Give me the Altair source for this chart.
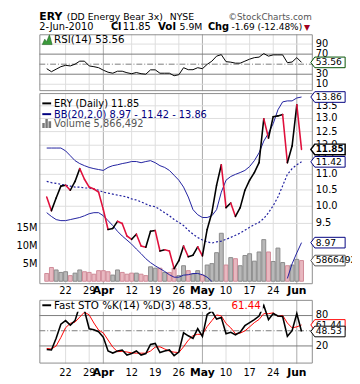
import altair as alt
import pandas as pd

FONT = "DejaVu Sans"

# ---------------- data: trading days 16-Mar-2010 .. 2-Jun-2010 (index 0..54) ----------------
prior_close = 10.45
close = [10.28, 9.87, 10.25, 10.62, 10.65, 10.49, 10.77, 11.19, 10.84, 10.59,
         10.53, 10.43, 9.90, 9.33, 9.36, 9.56, 9.50, 9.15, 9.06, 9.20,
         8.88, 8.85, 9.28, 9.30, 8.75, 8.78, 8.75, 8.30, 8.50, 8.88,
         8.60, 8.64, 8.86, 8.62, 9.33, 9.81, 10.65, 11.32, 9.96, 10.10,
         9.70, 9.96, 10.49, 10.81, 11.06, 11.39, 12.99, 12.26, 13.07, 13.10,
         13.15, 11.39, 11.97, 13.54, 11.85]
bb_upper = [11.90, 11.90, 11.90, 11.90, 11.80, 11.63, 11.46, 11.36, 11.29, 11.23,
            11.19, 11.16, 11.13, 11.23, 11.29, 11.32, 11.36, 11.39, 11.43, 11.43,
            11.39, 11.43, 11.46, 11.39, 11.29, 11.23, 11.13, 10.97, 10.81, 10.59,
            10.28, 9.90, 9.75, 9.67, 9.67, 9.72, 9.90, 10.43, 10.81, 10.93,
            11.00, 11.06, 11.13, 11.26, 11.46, 11.73, 12.15, 12.44, 12.80, 13.34,
            13.66, 13.70, 13.70, 13.82, 13.86]
bb_middle = [10.77, 10.73, 10.71, 10.68, 10.65, 10.62, 10.59, 10.59, 10.56, 10.56,
             10.53, 10.49, 10.43, 10.40, 10.37, 10.34, 10.31, 10.28, 10.22, 10.19,
             10.13, 10.07, 10.01, 9.99, 9.90, 9.81, 9.72, 9.61, 9.53, 9.44,
             9.31, 9.20, 9.11, 9.04, 8.99, 8.96, 8.99, 9.01, 9.06, 9.11,
             9.17, 9.23, 9.31, 9.39, 9.47, 9.53, 9.64, 9.81, 10.02, 10.28,
             10.63, 11.00, 11.19, 11.32, 11.42]
# None = below the bottom of the price panel (not visible)
bb_lower = [9.81, 9.70, 9.61, 9.58, 9.58, 9.61, 9.64, 9.67, 9.72, 9.78,
            9.81, 9.81, 9.72, 9.58, 9.44, 9.28, 9.15, 9.04, 8.93, 8.80,
            8.68, 8.55, 8.45, 8.37, 8.30, 8.23, 8.15, 8.09, 8.09, 8.14,
            8.15, 8.18, 8.18, 8.15, 8.09, 7.99, None, None, None, None,
            None, None, None, None, None, None, None, None, None, None,
            None, 8.06, 8.42, 8.70, 8.97]
volume_m = [2.2, 3.9, 3.2, 2.5, 2.7, 1.6, 2.3, 3.2, 2.7, 2.5,
            2.0, 3.0, 3.0, 2.7, 1.75, 3.2, 2.5, 2.0, 2.3, 2.3,
            2.0, 1.6, 4.1, 3.7, 3.7, 2.5, 2.5, 3.7, 1.6, 4.4,
            3.0, 2.0, 3.0, 1.75, 4.6, 5.0, 8.1, 13.6, 4.6, 6.7,
            6.4, 4.4, 7.3, 7.8, 5.7, 8.3, 11.8, 8.3, 5.6, 9.4,
            5.3, 4.4, 4.6, 6.2, 5.866492]
rsi = [41, 35, 40, 45, 47.7, 46.5, 50, 56, 56, 46.5,
       45, 43, 38, 34, 32, 36, 36, 33, 31, 33.4,
       31, 30, 38.7, 38.7, 32, 32, 32, 27, 29, 43,
       39, 39, 43, 41, 49.6, 56, 66, 69, 55, 54,
       52, 52, 56, 60, 63, 64, 71, 66, 68.5, 68.5,
       68.5, 53, 54.3, 63, 53.56]
sto_k = [13, 12, 35, 63, 70, 61, 70, 100, 90, 54,
         52, 48, 37, 10, 6, 10, 12, 2, 5, 10,
         2, 5, 23, 25, 7, 10, 12, 1, 8, 46,
         40, 35, 54, 39, 82, 89, 73, 76, 44, 47,
         42, 47, 60, 66, 72, 79, 100, 72, 84, 79,
         78, 39, 50, 84, 48.53]
sto_d = [15, 14, 20, 36.7, 56, 64.7, 67, 77, 86.7, 81.3,
         65.3, 51.3, 45.7, 31.7, 17.7, 8.7, 9.3, 8, 6.3, 5.7,
         5.7, 5.7, 10, 17.7, 18.3, 14, 9.7, 7.7, 7, 18.3,
         31.3, 40.3, 43, 42.7, 58.3, 70, 81.3, 79.3, 64.3, 55.7,
         44.3, 45.3, 49.7, 57.7, 66, 72.3, 83.7, 83.7, 85.3, 78.3,
         80.3, 65.3, 55.7, 57.7, 61.44]

week_idx = [4, 9, 18, 23, 28, 38, 43, 48]
month_idx = [12, 33, 53]
xlab_idx = [4, 9, 12, 18, 23, 28, 33, 38, 43, 48, 53]
xlab_txt = ["22", "29", "Apr", "12", "19", "26", "May", "10", "17", "24", "Jun"]
xlab_bold = [False, False, True, False, False, False, True, False, False, False, True]
rsi_light = [10, 90]
rsi_dark = [30, 70]
sto_dark = [20, 80]
price_grid = [9.5, 10.0, 10.5, 11.0, 11.5, 12.0, 12.5, 13.0, 13.5]
vol_ticks = [5, 10, 15]

# ---------------- frames ----------------
n = len(close)
df = pd.DataFrame({"i": list(range(n)), "close": close, "up": bb_upper, "mid": bb_middle,
                   "low": bb_lower, "vol": volume_m, "rsi": rsi, "k": sto_k, "d": sto_d})
df["prev"] = [prior_close] + close[:-1]
df["ip"] = df["i"] - 1
df["down"] = df["close"] < df["prev"]
RED = "#e0103c"
df["lc"] = [RED if d else "#000000" for d in df["down"]]
df["vfill"] = ["#e8b8c0" if d else "#b8b8b8" for d in df["down"]]
df["vstroke"] = ["#d08a98" if d else "#8a8a8a" for d in df["down"]]
seg_df = df[df["i"] > 0]
low_df = df[df["low"].notna()].copy()
low_df["seg"] = (low_df["i"].diff().fillna(1) > 1).cumsum()

BLUE = "#1f1f9f"
NAVY = "#000080"

XS = alt.Scale(domain=[0, 54], range=[2.5, 272.5], nice=False, zero=False)
RS = alt.Scale(domain=[10, 90], range=[51, 10], nice=False, zero=False)
PS = alt.Scale(type="log", domain=[9.5, 13.5], range=[193, 73], nice=False)
VS = alt.Scale(domain=[0, 15], range=[252, 198], nice=False, zero=False)
SS = alt.Scale(domain=[20, 80], range=[318, 287], nice=False, zero=False)

W = 279
PANELS = [(0, 58), (60, 255), (271, 336)]


def X(f="i"):
    return alt.X(f"{f}:Q", scale=XS, axis=None)


def Y(f, s):
    return alt.Y(f"{f}:Q", scale=s, axis=None)


one = pd.DataFrame({"a": [0]})


def txt(s, x, y, size=10, weight="normal", color="#000000", align="left", baseline="alphabetic", font=FONT):
    return alt.Chart(one).mark_text(text=s, fontSize=size, fontWeight=weight, color=color, align=align,
                                    baseline=baseline, font=font).encode(x=alt.value(x), y=alt.value(y))


TAG = "M -1 0 L -0.77 -0.31 L 1 -0.31 L 1 0.31 L -0.77 0.31 Z"


def tag(val, scale, label, color, bold=False, sw=1):
    d = pd.DataFrame({"v": [val], "t": [label]})
    box = alt.Chart(d).mark_point(shape=TAG, size=35 * 35, filled=True, fill="white", stroke=color,
                                  strokeWidth=sw, opacity=1).encode(x=alt.value(294.5), y=Y("v", scale))
    t = alt.Chart(d).mark_text(align="left", baseline="middle", fontSize=9 if bold else 9.3, font=FONT,
                               fontWeight="bold" if bold else "normal", color="#000000").encode(
        x=alt.value(282), y=Y("v", scale), text="t:N")
    return [box, t]


layers = []

# vertical grid
for (t, b) in PANELS:
    layers.append(alt.Chart(pd.DataFrame({"i": week_idx})).mark_rule(color="#dddddd", strokeWidth=1).encode(
        x=X(), y=alt.value(t), y2=alt.value(b)))
    layers.append(alt.Chart(pd.DataFrame({"i": month_idx})).mark_rule(color="#a9a9a9", strokeWidth=1).encode(
        x=X(), y=alt.value(t), y2=alt.value(b)))

# horizontal grid
layers.append(alt.Chart(pd.DataFrame({"v": rsi_light})).mark_rule(color="#dddddd").encode(
    y=Y("v", RS), x=alt.value(0), x2=alt.value(W)))
layers.append(alt.Chart(pd.DataFrame({"v": rsi_dark})).mark_rule(color="#7a7a7a").encode(
    y=Y("v", RS), x=alt.value(0), x2=alt.value(W)))
layers.append(alt.Chart(pd.DataFrame({"v": [50]})).mark_rule(color="#7a7a7a", strokeDash=[6, 2, 1, 2]).encode(
    y=Y("v", RS), x=alt.value(0), x2=alt.value(W)))
layers.append(alt.Chart(pd.DataFrame({"v": price_grid})).mark_rule(color="#dddddd").encode(
    y=Y("v", PS), x=alt.value(0), x2=alt.value(W)))
layers.append(alt.Chart(pd.DataFrame({"v": sto_dark})).mark_rule(color="#7a7a7a").encode(
    y=Y("v", SS), x=alt.value(0), x2=alt.value(W)))
layers.append(alt.Chart(pd.DataFrame({"v": [50]})).mark_rule(color="#7a7a7a", strokeDash=[6, 2, 1, 2]).encode(
    y=Y("v", SS), x=alt.value(0), x2=alt.value(W)))

# volume bars
layers.append(alt.Chart(df).mark_bar(size=4, strokeWidth=1).encode(
    x=X(), y=Y("vol", VS), y2=alt.datum(0),
    fill=alt.Fill("vfill:N", scale=None), stroke=alt.Stroke("vstroke:N", scale=None)))

# Bollinger bands
layers.append(alt.Chart(df).mark_line(color=BLUE, strokeWidth=1).encode(x=X(), y=Y("up", PS)))
layers.append(alt.Chart(df).mark_line(color=BLUE, strokeWidth=1.2, strokeDash=[2, 2]).encode(x=X(), y=Y("mid", PS)))
layers.append(alt.Chart(low_df).mark_line(color=BLUE, strokeWidth=1).encode(x=X(), y=Y("low", PS), detail="seg:N"))

# close line, coloured by direction
layers.append(alt.Chart(seg_df).mark_rule(strokeWidth=1.6, strokeCap="round").encode(
    x=X("ip"), x2=alt.X2("i:Q"), y=Y("prev", PS), y2=alt.Y2("close:Q"),
    color=alt.Color("lc:N", scale=None)))

# RSI
layers.append(alt.Chart(df).mark_line(color="#000000", strokeWidth=1).encode(x=X(), y=Y("rsi", RS)))

# Stochastics
layers.append(alt.Chart(df).mark_line(color="#ff0000", strokeWidth=1).encode(x=X(), y=Y("d", SS)))
layers.append(alt.Chart(df).mark_line(color="#000000", strokeWidth=1.6).encode(x=X(), y=Y("k", SS)))

# panel frames
for (t, b) in PANELS:
    layers.append(alt.Chart(one).mark_rect(filled=False, stroke="#8c8c8c", strokeWidth=1).encode(
        x=alt.value(0.5), x2=alt.value(W - 0.5), y=alt.value(t + 0.5), y2=alt.value(b - 0.5)))

# legends
layers.append(alt.Chart(one).mark_point(shape="M -1 1 L -0.5 -0.1 L -0.1 0.4 L 0.45 -1 L 1 1 Z", size=100,
                                        filled=True, fill="#3a9a3a", stroke="#1f5f1f", strokeWidth=0.6,
                                        opacity=1).encode(x=alt.value(8), y=alt.value(5.5)))
layers.append(txt("RSI(14) 53.56", 15, 9, size=10.5))

layers.append(alt.Chart(one).mark_rule(color="#000000", strokeWidth=2).encode(
    x=alt.value(3), x2=alt.value(12), y=alt.value(70.5)))
layers.append(txt("ERY (Daily) 11.85", 15, 74))
layers.append(alt.Chart(one).mark_rule(color=NAVY, strokeWidth=2).encode(
    x=alt.value(3), x2=alt.value(12), y=alt.value(81.5)))
layers.append(txt("BB(20,2.0) 8.97 - 11.42 - 13.86", 15, 85, color=NAVY))
layers.append(alt.Chart(one).mark_point(
    shape="M -1 1 L -1 -0.1 L -0.45 -0.1 L -0.45 1 Z M -0.3 1 L -0.3 -1 L 0.25 -1 L 0.25 1 Z M 0.4 1 L 0.4 -0.5 L 1 -0.5 L 1 1 Z",
    size=81, filled=True, fill="#777777", opacity=1).encode(x=alt.value(7.5), y=alt.value(91)))
layers.append(txt("Volume 5,866,492", 15, 95, color="#555555"))

layers.append(alt.Chart(one).mark_rect(color="white").encode(
    x=alt.value(2), x2=alt.value(228), y=alt.value(272), y2=alt.value(283)))
layers.append(alt.Chart(one).mark_rule(color="#000000", strokeWidth=2).encode(
    x=alt.value(3), x2=alt.value(12), y=alt.value(276.5)))
layers.append(txt("Fast STO %K(14) %D(3) 48.53,", 15, 280, size=10.5))
layers.append(txt("61.44", 196, 280, size=10.5, color="#ff0000"))

# right-hand axis labels
for v in [10, 30, 70, 90]:
    layers.append(alt.Chart(pd.DataFrame({"v": [v], "t": [str(v)]})).mark_text(
        align="left", baseline="middle", fontSize=10, font=FONT).encode(x=alt.value(282), y=Y("v", RS), text="t:N"))
pg = pd.DataFrame({"v": price_grid, "t": [f"{v:.1f}" for v in price_grid]})
layers.append(alt.Chart(pg).mark_text(align="left", baseline="middle", fontSize=10, font=FONT).encode(
    x=alt.value(282), y=Y("v", PS), text="t:N"))
vt = pd.DataFrame({"v": vol_ticks, "t": [f"{v}M" for v in vol_ticks]})
layers.append(alt.Chart(vt).mark_text(align="right", baseline="middle", fontSize=10, font=FONT).encode(
    x=alt.value(-2), y=Y("v", VS), text="t:N"))
st = pd.DataFrame({"v": sto_dark, "t": [str(v) for v in sto_dark]})
layers.append(alt.Chart(st).mark_text(align="left", baseline="middle", fontSize=10, font=FONT).encode(
    x=alt.value(282), y=Y("v", SS), text="t:N"))

# tags
layers += tag(rsi[-1], RS, "53.56", "#005000")
layers += tag(bb_upper[-1], PS, "13.86", NAVY)
layers += tag(bb_middle[-1], PS, "11.42", NAVY)
layers += tag(bb_lower[-1], PS, "8.97", NAVY)
layers += tag(close[-1], PS, "11.85", "#000000", bold=True, sw=1.5)
layers += tag(volume_m[-1], VS, "5866492", "#555555")
layers += tag(sto_d[-1], SS, "61.44", "#ff0000")
layers += tag(sto_k[-1], SS, "48.53", "#000000")

# date labels
xl = pd.DataFrame({"i": xlab_idx, "t": xlab_txt, "b": xlab_bold})
for yy in [262, 346]:
    layers.append(alt.Chart(xl[~xl["b"]]).mark_text(fontSize=10, font=FONT, baseline="middle").encode(
        x=X(), y=alt.value(yy), text="t:N"))
    layers.append(alt.Chart(xl[xl["b"]]).mark_text(fontSize=11, font=FONT, fontWeight="bold", baseline="middle").encode(
        x=X(), y=alt.value(yy), text="t:N"))

# header
layers.append(txt("ERY", 0, -15, size=11, weight="bold"))
layers.append(txt("(DD Energy Bear 3x)", 28, -15, size=9.5))
layers.append(txt("NYSE", 133, -15, size=9.5))
layers.append(txt("\u00a9StockCharts.com", 278, -15, size=9, color="#555555", align="right"))
layers.append(txt("2-Jun-2010", 0, -4))
layers.append(txt("Cl", 73, -4, size=10, weight="bold"))
layers.append(txt("11.85", 85, -4))
layers.append(txt("Vol", 121, -4, size=10.5, weight="bold"))
layers.append(txt("5.9M", 143, -4, size=9.5))
layers.append(txt("Chg", 172, -4, size=10, weight="bold"))
layers.append(txt("-1.69 (-12.48%)", 196, -4, size=9.2))
layers.append(txt("\u25bc", 270, -4, size=8, color="#a00020"))

chart = alt.layer(*layers).resolve_scale(y="independent").properties(
    width=W, height=336,
    autosize=alt.AutoSizeParams(type="none"),
    padding={"left": 32, "top": 23, "right": 40, "bottom": 16},
).configure_view(stroke=None)

chart.save("out.html", embed_options={"renderer": "svg", "actions": False})
